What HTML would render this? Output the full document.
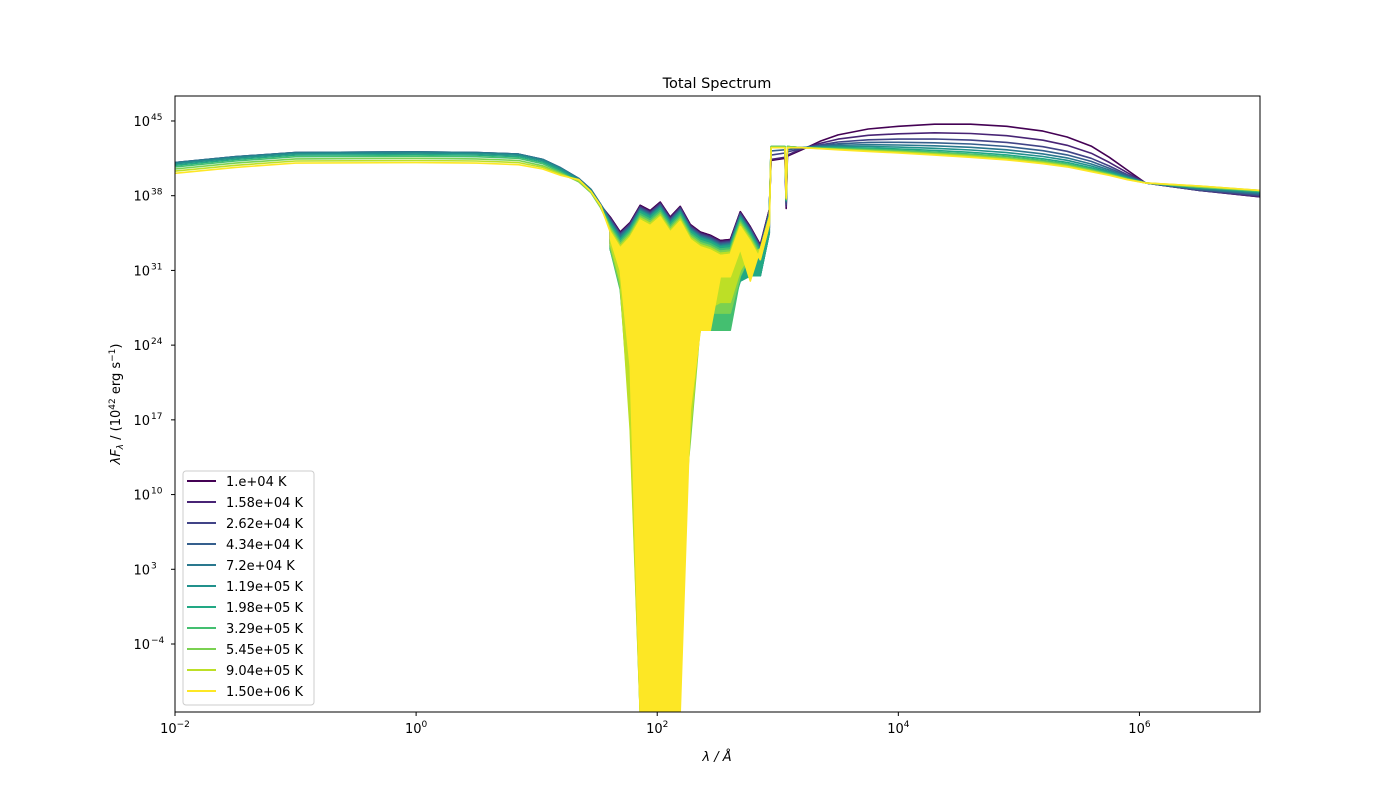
<!DOCTYPE html>
<html><head><meta charset="utf-8"><style>
body{margin:0;background:#fff;}
svg text{font-family:"DejaVu Sans","Liberation Sans",sans-serif;fill:#000;}
</style></head><body>
<svg id="chart" width="1400" height="800" xmlns="http://www.w3.org/2000/svg">
<defs><clipPath id="pc"><rect x="175" y="96" width="1085" height="616"/></clipPath></defs>
<rect width="1400" height="800" fill="#fff"/>
<text x="717" y="88" font-size="14.5" text-anchor="middle">Total Spectrum</text>
<g id="series" clip-path="url(#pc)"></g>
<rect x="175" y="96" width="1085" height="616" fill="none" stroke="#000" stroke-width="1"/>
<g id="axes"></g>
<text x="717" y="761" font-size="13" text-anchor="middle" font-style="italic">λ / Å</text>
<text transform="translate(120,404) rotate(-90)" font-size="13" text-anchor="middle"><tspan font-style="italic">λF</tspan><tspan font-style="italic" font-size="9" dy="3">λ</tspan><tspan dy="-3"> / (10</tspan><tspan font-size="9" dy="-5">42</tspan><tspan dy="5"> erg s</tspan><tspan font-size="9" dy="-5">−1</tspan><tspan dy="5">)</tspan></text>
<g id="legend"></g>
</svg>
<script>
const labels=["1.e+04 K","1.58e+04 K","2.62e+04 K","4.34e+04 K","7.2e+04 K","1.19e+05 K","1.98e+05 K","3.29e+05 K","5.45e+05 K","9.04e+05 K","1.50e+06 K"];
const colors=["#440154","#482475","#414487","#355f8d","#2a788e","#21918c","#22a884","#44bf70","#7ad151","#bddf26","#fde725"];
const xTicks=[-2,0,2,4,6];
const yTicks=[45,38,31,24,17,10,3,-4];
// log10 wavelength knots
const wlLeft=[-2,-1.5,-1,0,0.5,0.85,1.05,1.2,1.35,1.45,1.53];
const wlNoise=[1.61,1.693,1.776,1.859,1.942,2.025,2.108,2.191,2.274,2.357,2.44,2.523,2.606,2.689,2.772,2.855,2.93];
const wlRight=[2.945,3.06,3.07,3.08,3.2,3.35,3.5,3.75,4.0,4.3,4.6,4.9,5.2,5.4,5.6,5.75,5.9,6.05,6.5,7.0];
// log10 flux, left part
const left=[
[41.0,41.55,41.95,42.0,41.95,41.8,41.3,40.5,39.5,38.5,37.1],
[41.05,41.6,42.0,42.05,42.0,41.85,41.35,40.55,39.55,38.55,37.15],
[41.1,41.65,42.05,42.1,42.05,41.9,41.4,40.6,39.6,38.6,37.2],
[41.1,41.65,42.05,42.1,42.05,41.9,41.4,40.6,39.6,38.6,37.2],
[41.1,41.65,42.05,42.1,42.05,41.9,41.4,40.6,39.6,38.6,37.2],
[41.0,41.55,41.95,42.0,41.95,41.8,41.3,40.5,39.5,38.5,37.1],
[40.85,41.4,41.8,41.85,41.8,41.65,41.15,40.35,39.4,38.4,37.0],
[40.7,41.25,41.65,41.7,41.65,41.5,41.0,40.2,39.3,38.3,36.9],
[40.5,41.05,41.45,41.5,41.45,41.3,40.8,40.1,39.3,38.3,36.9],
[40.3,40.85,41.25,41.3,41.25,41.1,40.65,40.0,39.4,38.4,37.0],
[40.1,40.65,41.05,41.1,41.05,40.9,40.5,39.9,39.5,38.4,37.1]];
// noise region upper envelope
const upper=[
[36.0,34.6,35.5,37.1,36.6,37.4,36.0,37.0,35.3,34.6,34.3,33.8,33.9,36.5,35.1,33.4,36.7],
[35.9,34.5,35.4,37.0,36.5,37.3,35.9,36.9,35.2,34.5,34.2,33.7,33.8,36.4,35.0,33.3,36.6],
[35.8,34.4,35.3,36.9,36.4,37.2,35.8,36.8,35.1,34.4,34.1,33.6,33.7,36.3,34.9,33.2,36.5],
[35.7,34.3,35.2,36.8,36.3,37.1,35.7,36.7,35.0,34.3,34.0,33.5,33.6,36.2,34.8,33.1,36.4],
[35.6,34.2,35.1,36.7,36.2,37.0,35.6,36.6,34.9,34.2,33.9,33.4,33.5,36.1,34.7,33.0,36.3],
[35.5,34.0,35.0,36.6,36.1,36.9,35.5,36.5,34.8,34.1,33.8,33.3,33.4,36.0,34.6,32.9,36.2],
[35.4,33.9,34.9,36.5,36.0,36.8,35.4,36.4,34.7,34.0,33.7,33.2,33.3,35.9,34.5,32.8,36.1],
[35.2,33.7,34.7,36.3,35.8,36.6,35.2,36.2,34.5,33.8,33.5,33.0,33.1,35.7,34.3,32.6,35.9],
[35.0,33.5,34.5,36.1,35.6,36.4,35.0,36.0,34.3,33.6,33.3,32.8,32.9,35.5,34.1,32.4,35.7],
[34.8,33.3,34.3,35.9,35.4,36.2,34.8,35.8,34.1,33.4,33.1,32.6,32.7,35.3,33.9,32.2,35.5],
[34.6,33.1,34.1,35.7,35.2,36.0,34.6,35.6,33.9,33.2,32.9,32.4,32.5,35.1,33.7,32.0,35.3]];
// noise region lower envelope
const lower=[
[33.5,31.5,31.0,31.5,31.0,31.5,31.0,31.0,30.5,30.5,30.5,30.0,30.0,31.5,31.5,31.0,35.0],
[33.5,31.5,31.0,31.5,31.0,31.5,31.0,31.0,30.5,30.5,30.5,30.0,30.0,31.5,31.5,31.0,35.0],
[33.5,31.0,30.5,31.0,30.5,31.0,30.5,30.5,30.0,30.0,30.0,29.5,29.5,31.0,31.0,31.0,35.0],
[33.0,30.5,30.0,30.5,30.0,30.5,30.0,30.0,29.5,29.5,29.5,29.0,29.0,30.5,31.0,30.5,34.5],
[33.0,30.5,30.0,30.5,30.0,30.5,30.0,30.0,29.5,29.5,29.5,29.0,29.0,30.5,31.0,30.5,34.5],
[33.0,30.0,29.0,29.0,29.0,29.0,29.0,29.0,28.5,28.5,28.5,28.0,28.0,30.0,30.5,30.5,34.5],
[33.0,29.5,26.0,24.0,25.0,25.0,25.0,25.0,26.0,27.0,27.0,27.0,27.0,30.0,30.5,30.5,34.5],
[33.0,29.2,18.9,-10.5,-10.5,-10.5,-10.5,10,20,25.4,25.4,25.4,25.4,30.4,32.4,33.0,36.0],
[33.2,29.5,17.0,-10.5,-10.5,-10.5,-10.5,5,15,26,27,27,27,30.5,32.5,33.0,36.0],
[33.5,30.0,16.0,-10.5,-10.5,-10.5,-10.5,0,16,26,27.5,28,28,31,32.5,33.0,36.0],
[34.0,31.0,22.0,-10.5,-10.5,-10.5,-10.5,-10.5,18,25.4,25.4,30.4,30.4,33.0,30.0,33.0,36.0]];
// right part
const right=[
[41.3,41.5,36.8,41.7,42.3,43.1,43.7,44.25,44.5,44.7,44.7,44.5,44.05,43.5,42.65,41.6,40.4,39.2,38.5,37.9],
[41.4,41.6,37.0,41.8,42.4,42.9,43.3,43.66,43.8,43.89,43.83,43.62,43.2,42.72,41.98,41.12,40.15,39.2,38.5,37.9],
[41.8,42.0,37.2,42.1,42.4,42.76,43.03,43.24,43.3,43.31,43.21,42.99,42.59,42.16,41.5,40.78,39.97,39.2,38.5,38.0],
[42.2,42.3,37.4,42.3,42.5,42.68,42.86,42.99,43.0,42.96,42.84,42.61,42.22,41.82,41.21,40.58,39.86,39.2,38.6,38.1],
[42.5,42.5,37.5,42.5,42.5,42.61,42.72,42.78,42.75,42.67,42.53,42.3,41.92,41.54,40.97,40.41,39.77,39.2,38.6,38.2],
[42.6,42.6,37.5,42.6,42.5,42.55,42.61,42.61,42.55,42.44,42.28,42.04,41.67,41.32,40.78,40.27,39.7,39.2,38.7,38.3],
[42.6,42.6,37.6,42.6,42.5,42.5,42.51,42.47,42.38,42.24,42.07,41.82,41.46,41.12,40.61,40.16,39.64,39.2,38.8,38.4],
[42.6,42.6,37.6,42.6,42.5,42.47,42.44,42.36,42.25,42.09,41.91,41.67,41.31,40.98,40.49,40.07,39.59,39.2,38.8,38.4],
[42.6,42.6,37.7,42.6,42.5,42.44,42.38,42.28,42.15,41.97,41.79,41.54,41.18,40.87,40.39,40.0,39.55,39.2,38.8,38.5],
[42.5,42.5,37.7,42.5,42.5,42.42,42.34,42.21,42.08,41.89,41.69,41.44,41.09,40.78,40.32,39.95,39.53,39.2,38.9,38.5],
[42.5,42.5,37.8,42.5,42.5,42.4,42.3,42.15,42.0,41.8,41.6,41.35,41.0,40.7,40.25,39.9,39.5,39.2,38.9,38.5]];

const NS="http://www.w3.org/2000/svg";
const X0=175,X1=1260,Y0=96,Y1=712,XMIN=-2,XMAX=7,YMIN=-10.37,YMAX=47.34;
function xs(v){return X0+(v-XMIN)/(XMAX-XMIN)*(X1-X0);}
function ys(v){return Y1-(v-YMIN)/(YMAX-YMIN)*(Y1-Y0);}
function mk(t,a){const e=document.createElementNS(NS,t);for(const k in a)e.setAttribute(k,a[k]);return e;}
const sg=document.getElementById('series');
for(let i=0;i<labels.length;i++){
  const g=mk('g',{});
  
  
  let bp=wlNoise.map((w,k)=>xs(w).toFixed(1)+','+ys(upper[i][k]).toFixed(1));
  for(let k=wlNoise.length-1;k>=0;k--)bp.push(xs(wlNoise[k]).toFixed(1)+','+ys(lower[i][k]).toFixed(1));
  const band=mk('polygon',{points:bp.join(' '),fill:colors[i],stroke:colors[i],'stroke-width':1.5,'stroke-linejoin':'round'});
  
  
  g.appendChild(band);
  const pts=[];
  wlLeft.forEach((w,k)=>pts.push([w,left[i][k]]));
  wlNoise.forEach((w,k)=>pts.push([w,upper[i][k]]));
  wlRight.forEach((w,k)=>pts.push([w,right[i][k]]));
  const d='M'+pts.map(p=>xs(p[0]).toFixed(1)+','+ys(p[1]).toFixed(1)).join('L');
  const line=mk('path',{d:d,fill:'none',stroke:colors[i],'stroke-width':1.6,'stroke-linejoin':'round'});
  
  
  g.appendChild(line);
  sg.appendChild(g);
}
const ax=document.getElementById('axes');
xTicks.forEach(v=>{
  const x=xs(v);
  const t=mk('line',{x1:x,x2:x,y1:712,y2:716,stroke:'#000'});
  
  
  ax.appendChild(t);
  const tx=mk('text',{x:x,y:733,'font-size':13,'text-anchor':'middle'});
  
  
  tx.innerHTML='10<tspan font-size="9" dy="-6">'+(v<0?'−'+(-v):v)+'</tspan>';
  ax.appendChild(tx);
});
yTicks.forEach(v=>{
  const y=ys(v);
  const t=mk('line',{x1:171,x2:175,y1:y,y2:y,stroke:'#000'});
  
  
  ax.appendChild(t);
  const tx=mk('text',{x:150,y:y+5,'font-size':13,'text-anchor':'end'});
  
  
  tx.innerHTML='10';
  ax.appendChild(tx);
  const ex=mk('text',{x:151,y:y-1,'font-size':9,'text-anchor':'start'});
  
  
  ex.textContent=(v<0?'−'+(-v):''+v);
  ax.appendChild(ex);
});
const lg=document.getElementById('legend');
const box=mk('rect',{x:183,y:471,width:131,height:234,rx:3,fill:'#fff','fill-opacity':0.8,stroke:'#ccc'});


lg.appendChild(box);
labels.forEach((l,i)=>{
  const y=481+i*21;
  const e=mk('g',{});
  
  
  e.appendChild(mk('line',{x1:187,x2:216,y1:y,y2:y,stroke:colors[i],'stroke-width':2}));
  const t=mk('text',{x:226,y:y+5,'font-size':13});
  t.textContent=l;
  e.appendChild(t);
  lg.appendChild(e);
});
</script>
</body></html>
